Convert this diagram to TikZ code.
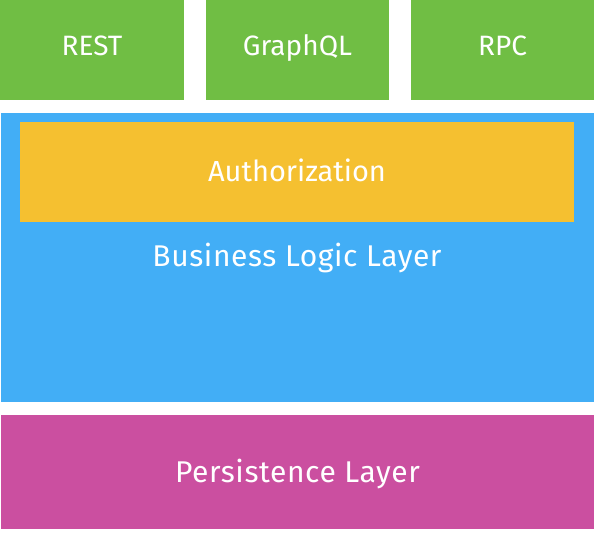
\documentclass[tikz,border=0pt]{standalone}
\usepackage{fontspec}
\setmainfont{Fira Sans}
\usetikzlibrary{positioning}

\definecolor{apigreen}{RGB}{112,190,68}
\definecolor{logicblue}{RGB}{66,174,246}
\definecolor{authyellow}{RGB}{245,192,48}
\definecolor{storemagenta}{RGB}{203,79,160}

\tikzset{
    layer/.style={fill=#1, draw=none, inner sep=0pt, text=white},
    toplabel/.style={font=\fontsize{28}{33}\selectfont, text height=19.3pt, text depth=8pt},
    midlabel/.style={font=\fontsize{29}{34}\selectfont, text height=20pt, text depth=0pt},
    widelabel/.style={font=\fontsize{30}{35}\selectfont\addfontfeatures{LetterSpace=2}, text height=20.6pt, text depth=0pt}
}

\begin{document}
\begin{tikzpicture}[x=1pt, y=-1pt]

    \useasboundingbox (0,0) rectangle (594,558);

    % API row
    \node[layer=apigreen, toplabel, minimum width=184pt, minimum height=100pt] (rest) at (92,50) {REST};
    \node[layer=apigreen, toplabel, minimum width=183pt, minimum height=100pt] (graphql) at (297.5,50) {GraphQL};
    \node[layer=apigreen, toplabel, minimum width=183pt, minimum height=100pt] (rpc) at (502.5,50) {RPC};

    % Business logic with authorization on top
    \node[layer=logicblue, minimum width=593pt, minimum height=288.5pt] (logic) at (297.5,257.25) {};
    \node[layer=authyellow, midlabel, minimum width=554pt, minimum height=99.7pt] (auth) at (297,171.85) {Authorization};
    \node[widelabel, text=white, inner sep=0pt, below=24pt of auth] (logictext) {Business Logic Layer};

    % Storage
    \node[layer=storemagenta, widelabel, minimum width=593pt, minimum height=114pt] (persist) at (297.5,472) {Persistence Layer};

\end{tikzpicture}
\end{document}
